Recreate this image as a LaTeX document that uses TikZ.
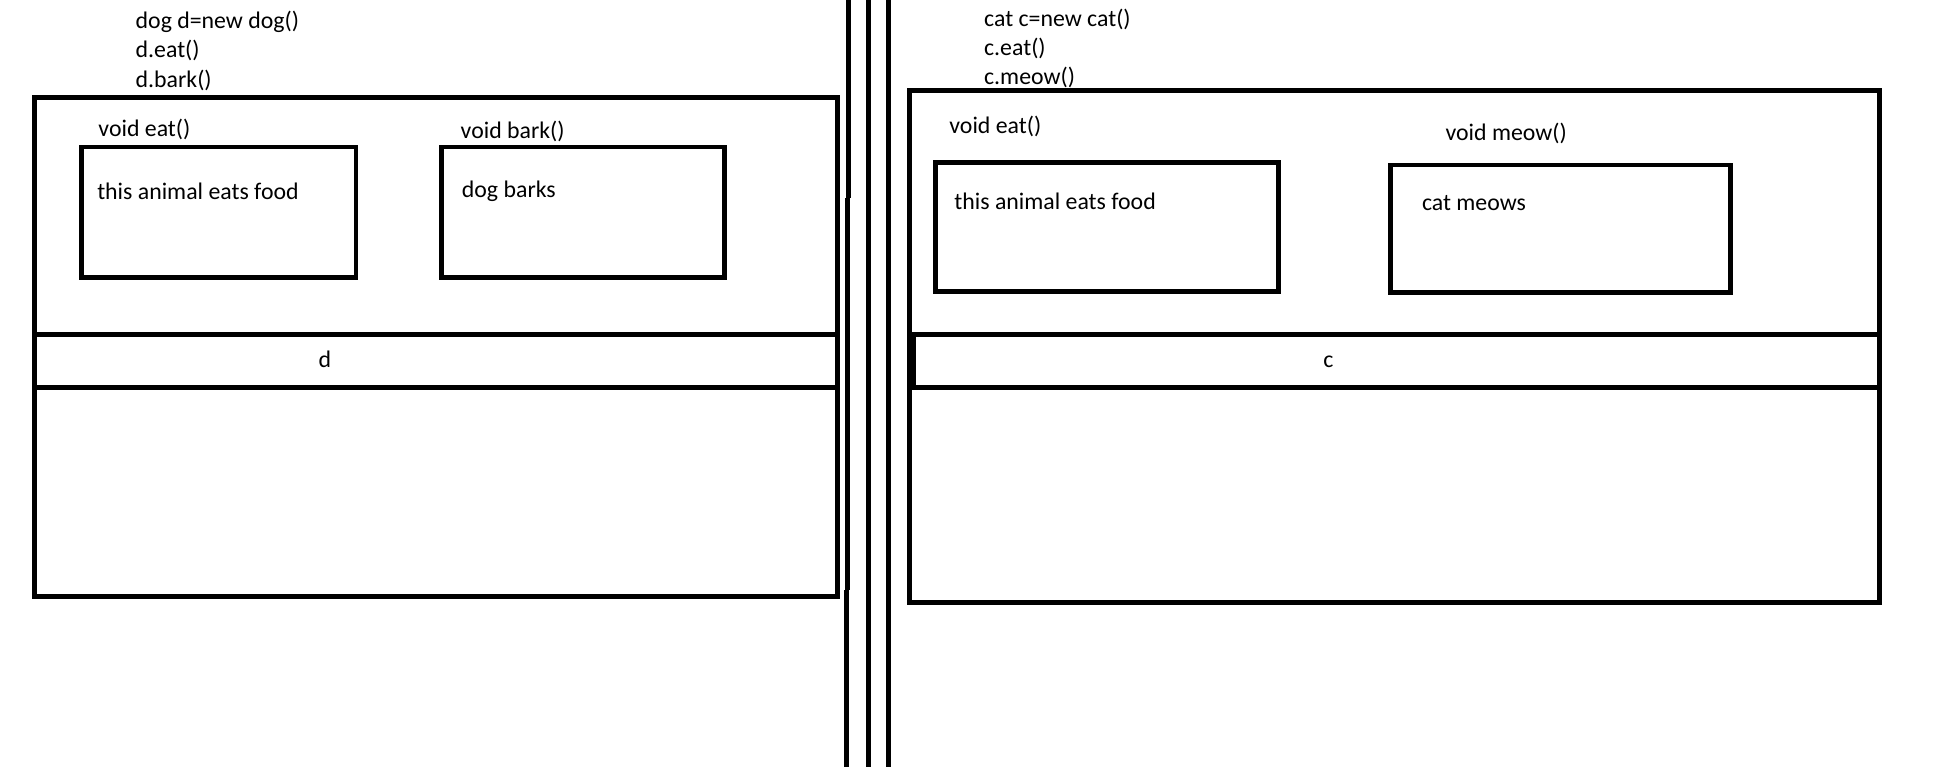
\documentclass[tikz,border=0pt]{standalone}
\usepackage{fontspec}
\setmainfont{Carlito}
\usetikzlibrary{positioning}

\begin{document}
\begin{tikzpicture}[x=0.5pt,y=-0.5pt,
    txt/.style={anchor=base west,inner sep=0pt,font=\fontsize{9.6}{11}\selectfont},
    mid/.style={txt,anchor=base},
    panel/.style={draw,line width=2pt},
    wall/.style={draw,line width=2pt}]
    \useasboundingbox (0,0) rectangle (1568,618);
    \fill[white] (0,0) rectangle (1568,618);

    % walls between the two objects
    \draw[wall] (684.3,0) -- (684.3,160);
    \draw[wall] (683.5,160) -- (683.5,476);
    \draw[wall] (682.7,476) -- (682.7,618);
    \draw[wall] (700.4,0) -- (700.4,618);
    \draw[wall] (716.5,0) -- (716.5,618);

    % dog object
    \draw[panel] (27.5,78.6) rectangle (675.4,481);
    \draw[panel] (27.5,269.8) -- (675.4,269.8);
    \draw[panel] (27.5,312.5) -- (675.4,312.5);
    \draw[panel] (66,118.5) rectangle (287,224);
    \draw[panel] (356,118.5) rectangle (584,224);

    \node (1) [txt] at (109,23) {dog d=new dog()};
    \node (2) [txt] at ([yshift=-11.8pt]1.base west) {d.eat()};
    \node (3) [txt] at ([yshift=-11.8pt]2.base west) {d.bark()};
    \node (4) [txt] at (79,110) {void eat()};
    \node (5) [txt] at (78,161) {this animal eats food};
    \node (6) [txt] at (371,112) {void bark()};
    \node (7) [txt] at (372,159) {dog barks};
    \node (8) [mid] at (262,296) {d};

    % cat object
    \draw[panel] (733.5,73) rectangle (1515,486);
    \draw[panel] (733.5,269.8) -- (1515,269.8);
    \draw[panel] (733.5,312.5) -- (1515,312.5);
    \draw[panel] (736.5,269.8) -- (736.5,312.5);
    \draw[panel] (754.5,131) rectangle (1031,235);
    \draw[panel] (1121,133) rectangle (1395,236);

    \node (9) [txt] at (793,21) {cat c=new cat()};
    \node (10) [txt] at ([yshift=-11.8pt]9.base west) {c.eat()};
    \node (11) [txt] at ([yshift=-11.8pt]10.base west) {c.meow()};
    \node (12) [txt] at (765,108) {void eat()};
    \node (13) [txt] at (769,169) {this animal eats food};
    \node (14) [txt] at (1165,113) {void meow()};
    \node (15) [txt] at (1146,170) {cat meows};
    \node (16) [mid] at (1071,296) {c};
\end{tikzpicture}
\end{document}
